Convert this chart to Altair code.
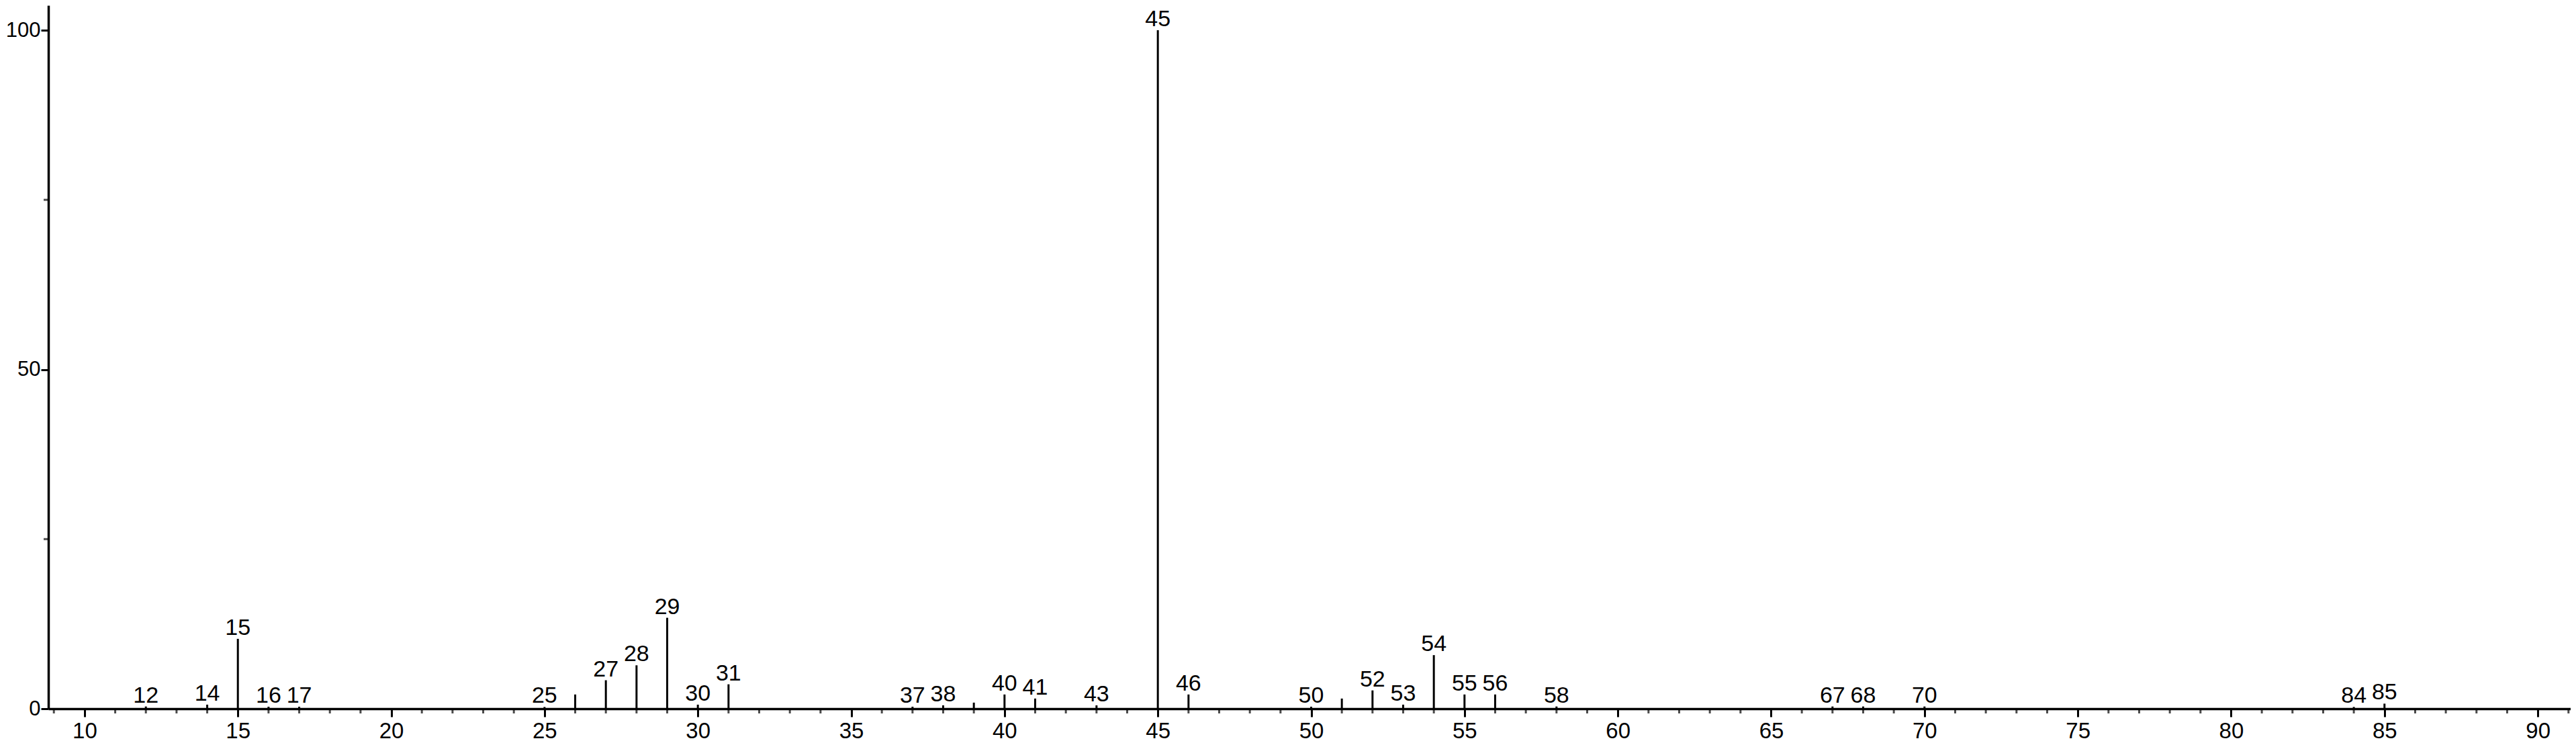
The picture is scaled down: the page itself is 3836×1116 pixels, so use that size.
import altair as alt
import pandas as pd

# Peaks: m/z and relative intensity (%)
mz = [12, 14, 15, 16, 17, 25, 26, 27, 28, 29, 30, 31, 37, 38, 39, 40, 41, 43,
      45, 46, 50, 51, 52, 53, 54, 55, 56, 58, 67, 68, 70, 84, 85]
intensity = [0.33, 0.6, 10.3, 0.3, 0.3, 0.26, 2.1, 4.2, 6.4, 13.4, 0.6, 3.6, 0.3, 0.5, 0.9, 2.1, 1.5, 0.5,
             100, 2.1, 0.3, 1.5, 2.7, 0.6, 7.9, 2.1, 2.1, 0.33, 0.33, 0.33, 0.33, 0.26, 0.75]
labeled = [True, True, True, True, True, True, False, True, True, True, True, True, True, True, False, True, True, True,
           True, True, True, False, True, True, True, True, True, True, True, True, True, True, True]

x_major = list(range(10, 95, 5))
x_minor = [v for v in range(9, 92) if v % 5 != 0]
y_major = [0, 50, 100]
y_minor = [25, 75]
x_domain = [8.82, 91.07]
y_domain = [0, 103.66]

df = pd.DataFrame({"mz": mz, "intensity": intensity, "labeled": labeled})
df["label"] = df["mz"].astype(str)
xminor_df = pd.DataFrame({"v": x_minor})
yminor_df = pd.DataFrame({"v": y_minor})

FONT = "Liberation Sans"
xs = alt.Scale(domain=x_domain, nice=False, zero=False)
ys = alt.Scale(domain=y_domain, nice=False)

x_minor_ticks = alt.Chart(xminor_df).mark_tick(
    orient="vertical", size=7, thickness=3, color="black", yOffset=3.5
).encode(
    x=alt.X("v:Q", scale=xs),
    y=alt.datum(0),
)

y_minor_ticks = alt.Chart(yminor_df).mark_tick(
    orient="horizontal", size=7, thickness=3, color="black", xOffset=-3.5
).encode(
    y=alt.Y("v:Q", scale=ys),
    x=alt.datum(x_domain[0]),
)

base = alt.Chart(df)

peaks = base.mark_rule(color="black", strokeWidth=3).encode(
    x=alt.X("mz:Q", scale=xs, axis=alt.Axis(values=x_major, grid=False, tickSize=12, tickWidth=3,
                                             tickColor="black", domainColor="black", domainWidth=3.5,
                                             labelFont=FONT, labelFontSize=33, labelColor="black",
                                             labelPadding=5, labelFlush=False, labelOverlap=False,
                                             orient="bottom", title=None)),
    y=alt.Y("intensity:Q", scale=ys, axis=alt.Axis(values=y_major, grid=False, tickSize=11, tickWidth=3,
                                                   tickColor="black", domainColor="black", domainWidth=3.5,
                                                   labelFont=FONT, labelFontSize=31, labelColor="black",
                                                   labelPadding=1, labelFlush=False, labelOverlap=False,
                                                   orient="left", title=None)),
    y2=alt.datum(0),
)

labels = base.transform_filter("datum.labeled").mark_text(
    font=FONT, fontSize=34, color="black", baseline="alphabetic", align="center", dy=-6
).encode(
    x=alt.X("mz:Q", scale=xs),
    y=alt.Y("intensity:Q", scale=ys),
    text="label:N",
)

chart = alt.layer(peaks, x_minor_ticks, y_minor_ticks, labels).properties(
    width=3756,
    height=1048,
    padding={"left": 64, "top": 0, "right": 0, "bottom": 52},
    autosize=alt.AutoSizeParams(type="none"),
    background="white",
).configure_view(stroke=None)

chart.save("out.html", embed_options={"renderer": "svg", "actions": False})
